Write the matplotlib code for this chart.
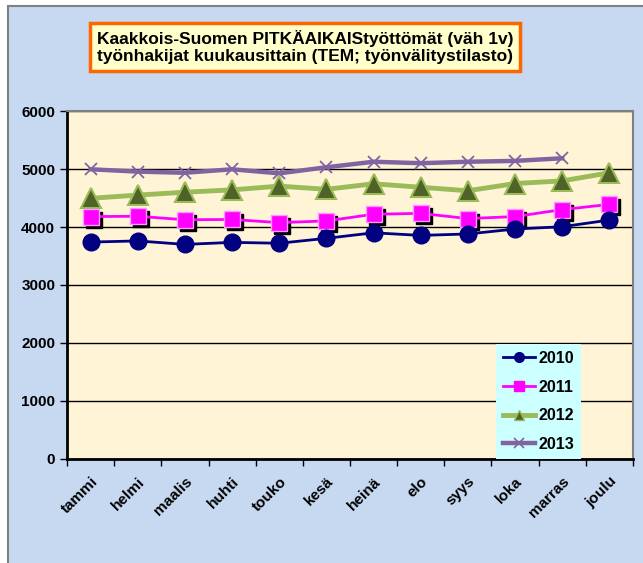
import matplotlib
matplotlib.use("Agg")
import matplotlib.pyplot as plt
import matplotlib.transforms as mtransforms
from matplotlib.patches import Rectangle

plt.rcParams.update({
    "font.family": ["Liberation Sans", "DejaVu Sans"],
    "font.weight": "bold",
})

# ─── data ─────────────────────────────────────────────
months = ["tammi", "helmi", "maalis", "huhti", "touko", "kesä",
          "heinä", "elo", "syys", "loka", "marras", "joulu"]
v2010 = [3740, 3760, 3700, 3735, 3720, 3805, 3900, 3855, 3880, 3965, 4005, 4120]
v2011 = [4180, 4185, 4125, 4130, 4075, 4105, 4220, 4235, 4145, 4180, 4300, 4390]
v2012 = [4495, 4550, 4600, 4640, 4705, 4650, 4745, 4685, 4625, 4750, 4795, 4935]
v2013 = [4995, 4955, 4935, 4995, 4925, 5030, 5125, 5100, 5125, 5140, 5185]
yticks = [0, 1000, 2000, 3000, 4000, 5000, 6000]
title = ("Kaakkois-Suomen PITKÄAIKAIStyöttömät (väh 1v)\n"
         "työnhakijat kuukausittain (TEM; työnvälitystilasto)")

W, H = 643, 563
fig = plt.figure(figsize=(W / 100, H / 100), dpi=100, facecolor="white")

# chart area background with border (right/bottom edges fall outside the image)
fig.add_artist(Rectangle((8 / W, -0.1), 1.2, 1.1 - 6 / H, transform=fig.transFigure,
                         facecolor="#C6D9F1", edgecolor="#808080", linewidth=1.5,
                         zorder=-5))

ax = fig.add_axes([67 / W, (H - 459) / H, 566 / W, 348 / H])
ax.set_facecolor("#FFF5D6")

x = list(range(len(months)))
x13 = x[:len(v2013)]

ax.plot(x, v2012, color="#9BBB59", lw=3.5, zorder=3)
ax.plot(x, v2012, ls="none", marker="^", ms=15, mfc="#4F6228", mec="#9BBB59",
        mew=1.5, zorder=4)
ax.plot(x13, v2013, color="#8064A2", lw=3.2, marker="x", ms=9, mew=1.3, zorder=3)

shadow = ax.transData + mtransforms.ScaledTranslation(3 / 100, -3 / 100, fig.dpi_scale_trans)
ax.plot(x, v2011, ls="none", marker="s", ms=12, color="black", transform=shadow, zorder=4)
ax.plot(x, v2011, color="#FF00FF", lw=2, marker="s", ms=12, mfc="#FF00FF",
        mec="#FF99FF", zorder=5)
ax.plot(x, v2010, color="#000080", lw=2, marker="o", ms=12, mfc="#000080",
        mec="#000080", zorder=6)

ax.set_xlim(-0.5, len(months) - 0.5)
ax.set_ylim(0, 6000)
ax.set_yticks(yticks)
ax.set_yticklabels([str(v) for v in yticks], fontsize=11, fontweight="bold")
ax.yaxis.grid(True, color="black", lw=1)
ax.set_axisbelow(True)

ax.set_xticks(x)
ax.set_xticklabels(months, rotation=45, ha="right", va="top", rotation_mode="anchor",
                   fontsize=11, fontweight="bold")
ax.tick_params(axis="x", which="major", length=0, pad=11)
ax.set_xticks([i - 0.5 for i in range(len(months) + 1)], minor=True)
ax.tick_params(axis="x", which="minor", length=5, direction="out", width=1)
ax.tick_params(axis="y", length=5, direction="out", width=1)

for side in ("top", "right"):
    ax.spines[side].set_color("#808080")
    ax.spines[side].set_linewidth(1.5)
for side in ("left", "bottom"):
    ax.spines[side].set_color("black")
    ax.spines[side].set_linewidth(2)

# legend (manual handles to get small markers)
h10, = ax.plot([], [], color="#000080", lw=2, marker="o", ms=7)
h11, = ax.plot([], [], color="#FF00FF", lw=2, marker="s", ms=7)
h12, = ax.plot([], [], color="#9BBB59", lw=3.5, marker="^", ms=7, mfc="#4F6228", mec="#9BBB59")
h13, = ax.plot([], [], color="#8064A2", lw=3.2, marker="x", ms=7, mew=1.2)
leg = ax.legend([h10, h11, h12, h13], ["2010", "2011", "2012", "2013"],
                loc="lower left", bbox_to_anchor=((496 - 67) / 566, 0.0),
                prop={"size": 11.5, "weight": "bold"}, handlelength=2.0,
                handletextpad=0.2, labelspacing=0.85, borderpad=0.45,
                borderaxespad=0, fancybox=False, framealpha=1)
leg.get_frame().set_facecolor("#CCFFFF")
leg.get_frame().set_edgecolor("none")
leg.set_zorder(10)

fig.text(305 / W, 1 - 47 / H, title, ha="center", va="center", fontsize=12.5,
         fontweight="bold", linespacing=1.1,
         bbox=dict(boxstyle="square,pad=0.4", facecolor="#FFFFCC",
                   edgecolor="#FF6600", linewidth=2.5))

fig.savefig("out.png", dpi=100, facecolor=fig.get_facecolor())
